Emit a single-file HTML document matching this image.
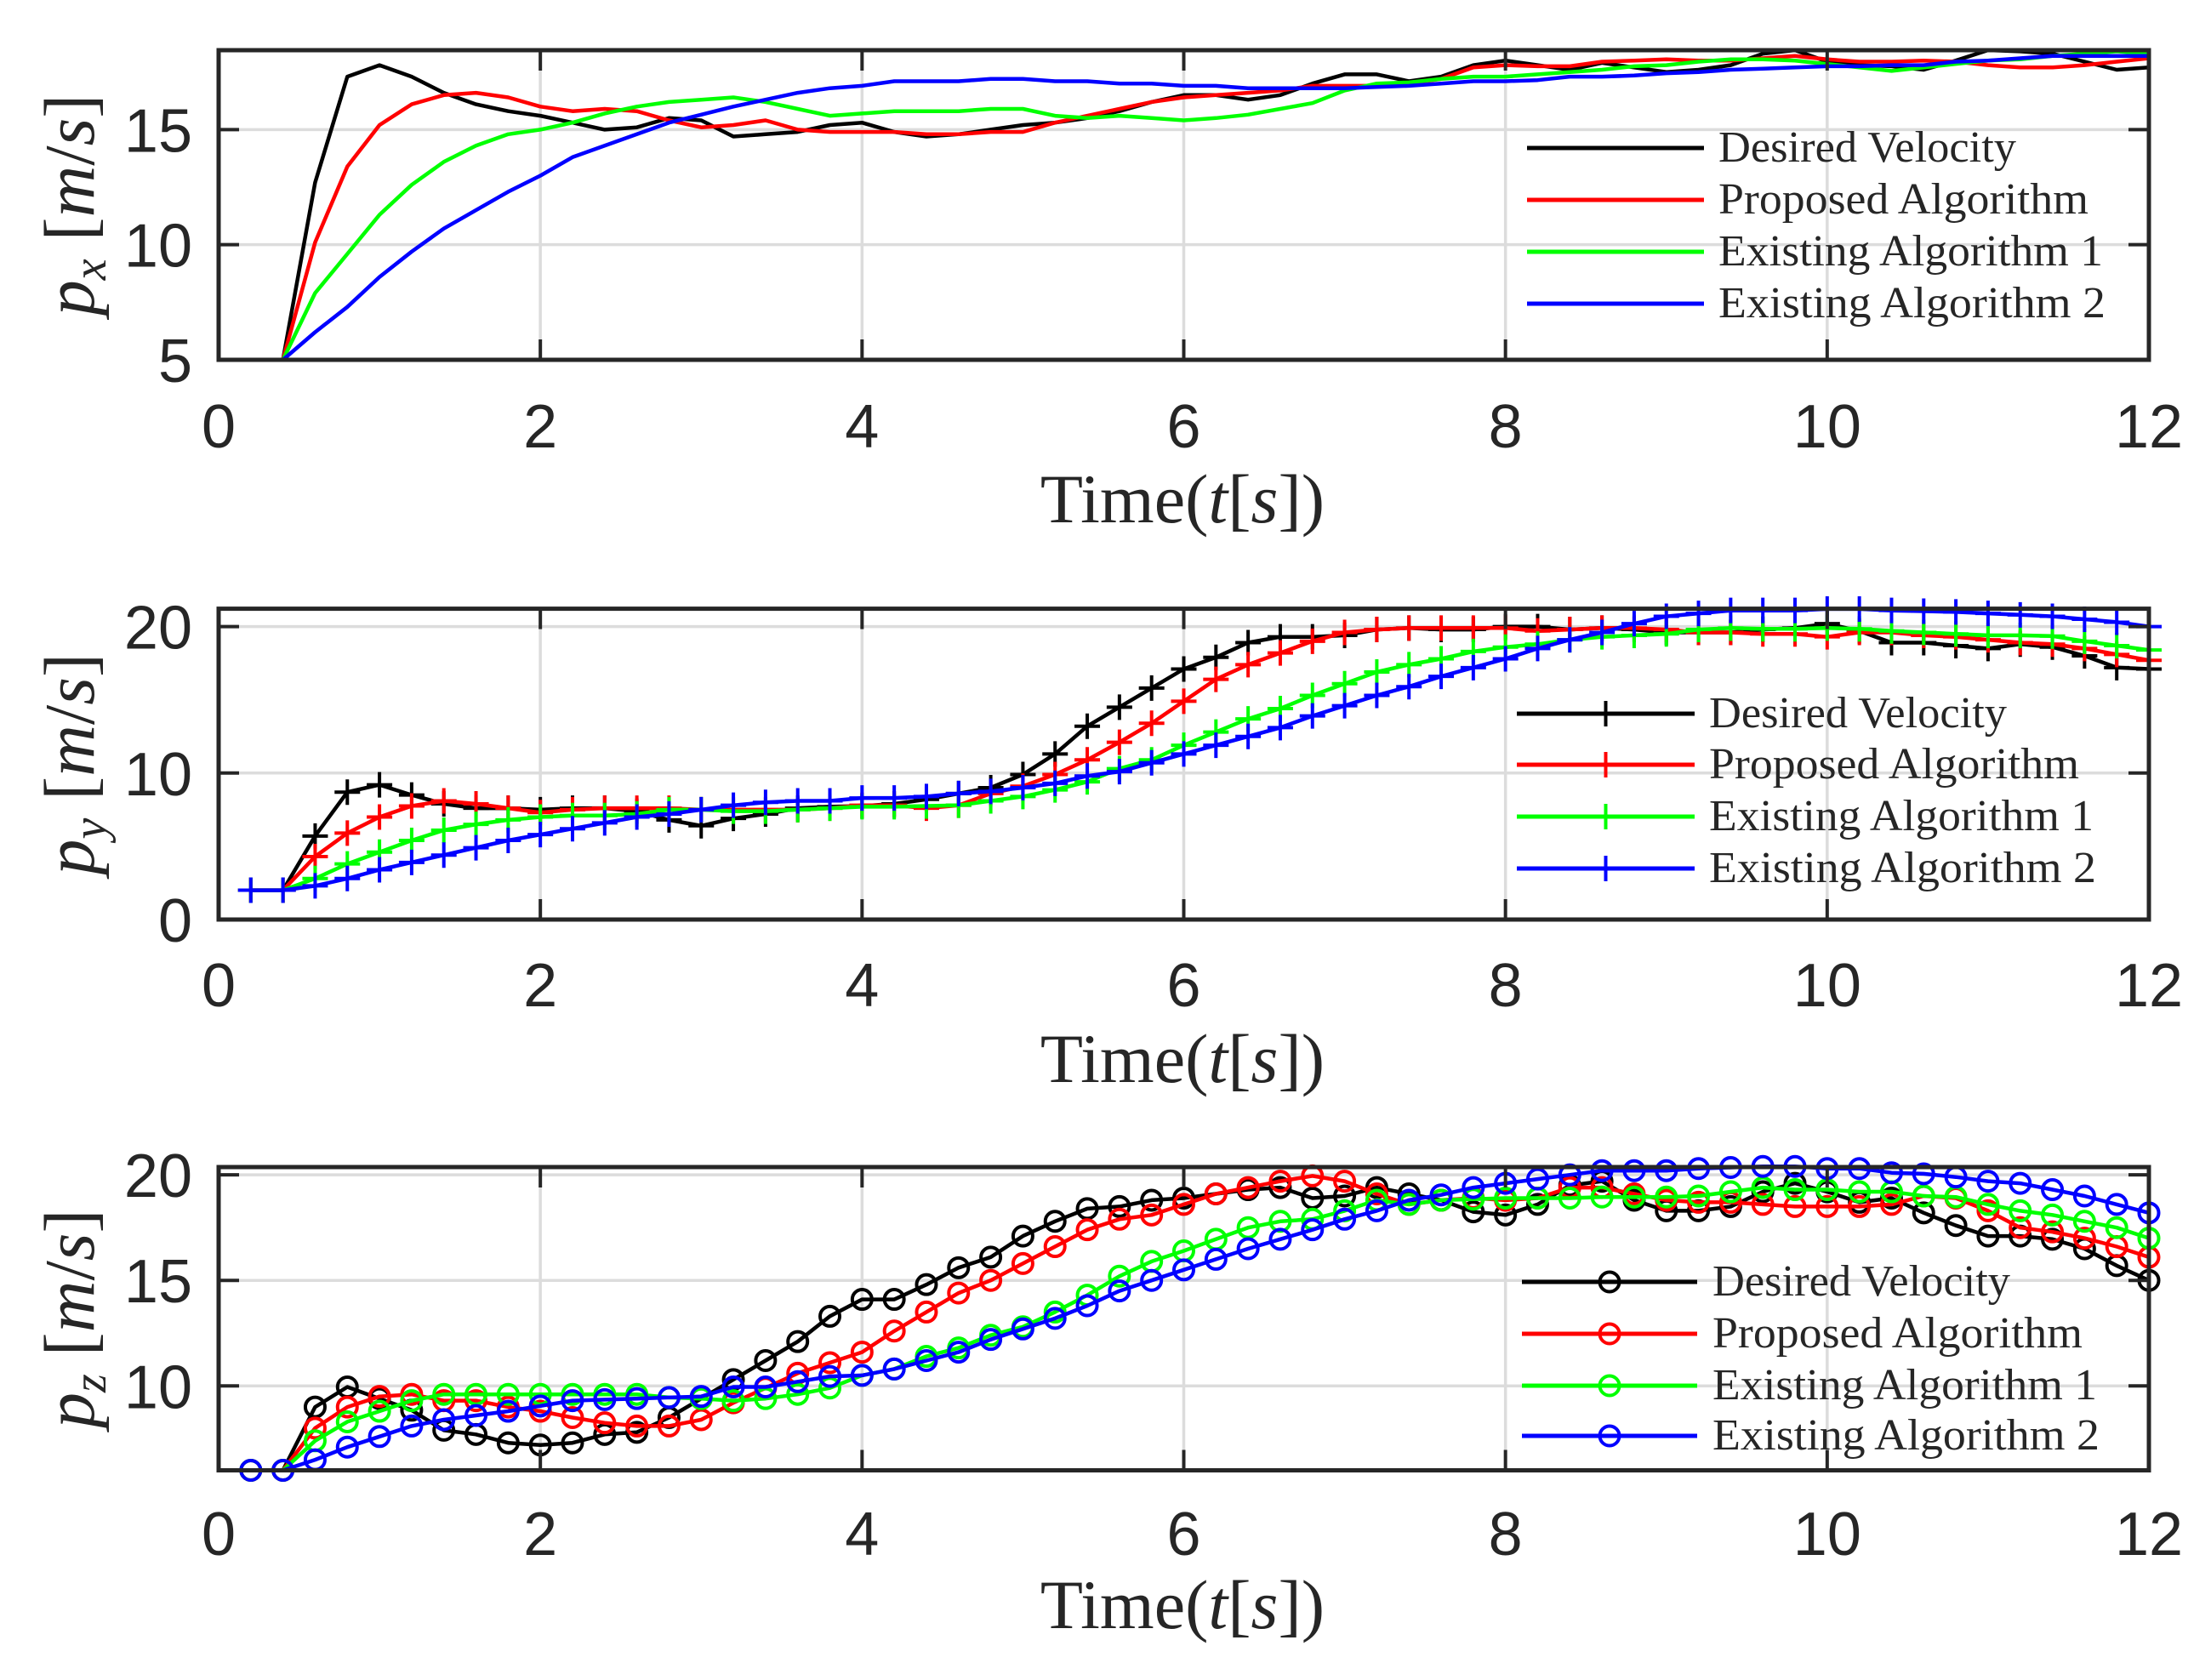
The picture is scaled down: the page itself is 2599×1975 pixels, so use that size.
<!DOCTYPE html>
<html><head><meta charset="utf-8"><style>
html,body{margin:0;padding:0;background:#fff;}
svg{display:block;}
.tick{font-family:"Liberation Sans",Arial,sans-serif;font-size:72px;fill:#262626;}
.lab{font-family:"Liberation Serif",serif;fill:#262626;}
</style></head><body>
<svg id="fig" width="2599" height="1975" viewBox="0 0 2599 1975" xmlns="http://www.w3.org/2000/svg"></svg>
<script>
const times = [];
for (let i = 1; i <= 60; i++) times.push(+(i * 0.2).toFixed(1));
const seriesNames = ["Desired Velocity","Proposed Algorithm","Existing Algorithm 1","Existing Algorithm 2"];
const seriesColors = ["#000000","#ff0000","#00ff00","#0000ff"];
const legendWidths = [350,435,452,455];
const xTicks = [0,2,4,6,8,10,12];

const pxDesired = [5,5,12.7,17.3,17.8,17.3,16.6,16.1,15.8,15.6,15.3,15.0,15.1,15.5,15.4,14.7,14.8,14.9,15.2,15.3,14.9,14.7,14.8,15.0,15.2,15.3,15.5,15.8,16.2,16.5,16.5,16.3,16.5,17.0,17.4,17.4,17.1,17.3,17.8,18.0,17.8,17.6,17.9,17.7,17.5,17.6,17.8,18.3,18.45,17.95,17.8,17.75,17.6,18.0,18.45,18.4,18.3,17.95,17.6,17.7];
const pxProposed = [5,5,10.1,13.4,15.2,16.1,16.5,16.6,16.4,16.0,15.8,15.9,15.8,15.4,15.1,15.2,15.4,15.0,14.9,14.9,14.9,14.8,14.8,14.9,14.9,15.3,15.6,15.9,16.2,16.4,16.5,16.6,16.7,16.9,16.9,16.9,17.0,17.2,17.7,17.8,17.75,17.75,17.95,18.0,18.05,18.0,18.0,18.1,18.2,18.05,17.95,17.95,18.0,17.95,17.8,17.7,17.7,17.8,17.95,18.1];
const pxExisting1 = [5,5,7.9,9.6,11.3,12.6,13.6,14.3,14.8,15.0,15.3,15.7,16.0,16.2,16.3,16.4,16.2,15.9,15.6,15.7,15.8,15.8,15.8,15.9,15.9,15.6,15.5,15.6,15.5,15.4,15.5,15.65,15.9,16.15,16.7,17.0,17.05,17.2,17.3,17.3,17.4,17.5,17.6,17.75,17.8,17.95,18.05,18.05,18.0,17.85,17.7,17.55,17.7,17.85,18.0,18.05,18.2,18.3,18.4,18.3];
const pxExisting2 = [5,5,6.2,7.3,8.6,9.7,10.7,11.5,12.3,13.0,13.8,14.3,14.8,15.3,15.65,16.0,16.3,16.6,16.8,16.9,17.1,17.1,17.1,17.2,17.2,17.1,17.1,17.0,17.0,16.9,16.9,16.8,16.8,16.8,16.8,16.85,16.9,17.0,17.1,17.1,17.15,17.3,17.3,17.35,17.45,17.5,17.6,17.65,17.7,17.75,17.75,17.8,17.8,17.95,18.0,18.1,18.2,18.2,18.2,18.2];

const pyDesired = [2,2,5.7,8.7,9.2,8.5,7.9,7.6,7.6,7.5,7.6,7.6,7.4,6.8,6.4,6.9,7.2,7.6,7.7,7.75,7.9,8.2,8.6,9.0,9.9,11.3,13.2,14.5,15.8,17.1,17.9,18.9,19.3,19.3,19.4,19.8,19.9,19.8,19.8,20.0,20.0,19.8,19.9,19.8,19.6,19.6,19.6,19.8,19.9,20.2,19.7,18.9,18.9,18.7,18.5,18.8,18.6,18.0,17.2,17.1];
const pyProposed = [2,2,4.3,5.9,7.0,7.75,8.1,7.9,7.6,7.3,7.5,7.6,7.6,7.6,7.5,7.5,7.5,7.5,7.6,7.8,7.8,7.6,7.8,8.6,9.1,9.9,10.9,12.1,13.4,14.9,16.4,17.4,18.2,19.0,19.6,19.8,19.9,19.9,19.9,19.9,19.7,19.8,19.9,19.9,19.8,19.6,19.6,19.5,19.5,19.3,19.6,19.6,19.4,19.3,19.1,18.9,18.8,18.5,18.1,17.7];
const pyExisting1 = [2,2,2.8,3.8,4.6,5.4,6.1,6.5,6.8,7.0,7.1,7.1,7.2,7.5,7.5,7.4,7.4,7.5,7.6,7.7,7.7,7.75,7.8,8.1,8.4,8.85,9.4,10.3,10.9,11.9,12.8,13.7,14.4,15.3,16.1,16.9,17.4,17.8,18.3,18.6,18.8,19.1,19.3,19.4,19.5,19.8,19.9,19.85,19.85,19.9,19.85,19.7,19.6,19.5,19.4,19.4,19.35,19.0,18.7,18.4];
const pyExisting2 = [2,2,2.3,2.8,3.4,3.9,4.4,4.9,5.4,5.8,6.2,6.6,7.0,7.2,7.5,7.8,8.0,8.1,8.1,8.3,8.3,8.4,8.6,8.75,9.0,9.3,9.8,10.1,10.7,11.3,11.9,12.5,13.1,13.9,14.6,15.3,15.9,16.6,17.2,17.8,18.5,19.1,19.6,20.2,20.7,20.9,21.1,21.1,21.1,21.2,21.2,21.1,21.05,21.0,20.9,20.8,20.7,20.5,20.3,20.0];

const pzDesired = [6,6,9.0,9.95,9.4,8.85,7.9,7.7,7.3,7.2,7.3,7.7,7.8,8.5,9.4,10.3,11.2,12.1,13.3,14.1,14.1,14.8,15.6,16.1,17.1,17.8,18.4,18.5,18.8,18.9,19.1,19.3,19.4,18.9,19.0,19.4,19.1,18.8,18.25,18.1,18.6,19.5,19.7,18.8,18.3,18.3,18.5,19.2,19.6,19.2,18.7,18.9,18.2,17.6,17.1,17.1,16.95,16.5,15.7,15.0];
const pzProposed = [6,6,8.0,9.0,9.5,9.6,9.3,9.3,9.0,8.8,8.5,8.25,8.1,8.1,8.4,9.2,9.9,10.6,11.1,11.6,12.6,13.5,14.4,15.0,15.8,16.6,17.4,17.9,18.1,18.6,19.1,19.4,19.7,19.95,19.7,19.1,18.6,18.8,18.9,18.8,18.9,19.4,19.4,19.1,18.8,18.7,18.7,18.6,18.5,18.5,18.5,18.6,19.0,18.9,18.3,17.5,17.3,17.0,16.6,16.1];
const pzExisting1 = [6,6,7.4,8.3,8.8,9.3,9.6,9.6,9.6,9.6,9.6,9.6,9.6,9.45,9.4,9.3,9.4,9.6,9.9,10.5,10.8,11.4,11.8,12.4,12.8,13.5,14.3,15.2,15.9,16.4,16.95,17.5,17.8,17.9,18.3,18.8,18.6,18.8,18.85,18.9,18.9,18.9,18.95,18.95,18.95,19.0,19.2,19.4,19.3,19.3,19.2,19.2,19.0,18.95,18.6,18.3,18.1,17.8,17.5,17.0];
const pzExisting2 = [6,6,6.5,7.1,7.6,8.1,8.4,8.6,8.8,9.05,9.3,9.35,9.4,9.45,9.5,9.95,9.95,10.2,10.45,10.5,10.8,11.2,11.6,12.2,12.7,13.2,13.8,14.5,15.0,15.5,16.0,16.5,16.95,17.4,17.9,18.3,18.8,19.05,19.4,19.6,19.8,20.0,20.2,20.2,20.2,20.3,20.35,20.4,20.4,20.3,20.3,20.1,20.05,19.9,19.7,19.6,19.3,19.0,18.6,18.2];

const pyTicks = [0,10,20], pxTicks = [5,10,15], pzTicks = [10,15,20];

const NS = "http://www.w3.org/2000/svg";
const svg = document.getElementById("fig");
function mk(tag, attrs, parent) {
  const e = document.createElementNS(NS, tag);
  for (const k in attrs) e.setAttribute(k, attrs[k]);
  (parent || svg).appendChild(e);
  return e;
}
const X0 = 257, X1 = 2526;
function xs(t) { return X0 + (X1 - X0) * t / 12; }

const panels = [
  {key:"px", sub:"x", top:59, bot:423, ymin:5, ymax:18.45, ticks:pxTicks, data:[pxDesired,pxProposed,pxExisting1,pxExisting2], marker:"none",
   tickBase:526, labBase:614, legX1:1795, legX2:2003, legTx:2020, legY:[174,235,296,357]},
  {key:"py", sub:"y", top:715.6, bot:1081, ymin:0, ymax:21.22, ticks:pyTicks, data:[pyDesired,pyProposed,pyExisting1,pyExisting2], marker:"plus",
   tickBase:1183, labBase:1272, legX1:1783, legX2:1992, legTx:2009, legY:[839,899,960,1021]},
  {key:"pz", sub:"z", top:1372, bot:1728.5, ymin:6.0, ymax:20.37, ticks:pzTicks, data:[pzDesired,pzProposed,pzExisting1,pzExisting2], marker:"circle",
   tickBase:1828, labBase:1914, legX1:1789, legX2:1995, legTx:2013, legY:[1507,1568,1629,1688]}
];

function drawMarker(g, type, x, y, color) {
  if (type === "plus") {
    const p = mk("path", {d:`M${x-15},${y}H${x+15}M${x},${y-15}V${y+15}`, stroke:color, "stroke-width":4, fill:"none"}, g);
    
    
  } else if (type === "circle") {
    const c = mk("circle", {cx:x, cy:y, r:11.5, stroke:color, "stroke-width":4, fill:"none"}, g);
    
    
  }
}

panels.forEach(P => {
  const ys = v => P.bot - (v - P.ymin) / (P.ymax - P.ymin) * (P.bot - P.top);
  const g = mk("g", {});
  
  
  xTicks.forEach(t => {
    const l = mk("line", {x1:xs(t), x2:xs(t), y1:P.top, y2:P.bot, stroke:"#dcdcdc", "stroke-width":3.5}, g);
    
    
  });
  P.ticks.forEach(v => {
    const l = mk("line", {x1:X0, x2:X1, y1:ys(v), y2:ys(v), stroke:"#dcdcdc", "stroke-width":3.5}, g);
    
    
  });
  const clipId = "clip-" + P.key;
  const cp = mk("clipPath", {id:clipId}, g);
  mk("rect", {x:X0, y:P.top - 16, width:X1 - X0 + 16, height:P.bot - P.top + 32}, cp);
  P.data.forEach((arr, si) => {
    const sg = mk("g", {"clip-path":`url(#${clipId})`}, g);
    
    
    const pts = arr.map((v, i) => xs(times[i]).toFixed(1) + "," + ys(v).toFixed(1)).join(" ");
    const pl = mk("polyline", {points:pts, fill:"none", stroke:seriesColors[si], "stroke-width":4.5, "stroke-linejoin":"round"}, sg);
    
    
    if (P.marker !== "none") arr.forEach((v, i) => drawMarker(sg, P.marker, xs(times[i]), ys(v), seriesColors[si]));
  });
  const box = mk("rect", {x:X0, y:P.top, width:X1 - X0, height:P.bot - P.top, fill:"none", stroke:"#262626", "stroke-width":5}, g);
  
  
  xTicks.forEach(t => {
    mk("line", {x1:xs(t), x2:xs(t), y1:P.bot, y2:P.bot - 24, stroke:"#262626", "stroke-width":4}, g);
    mk("line", {x1:xs(t), x2:xs(t), y1:P.top, y2:P.top + 24, stroke:"#262626", "stroke-width":4}, g);
    const tx = mk("text", {x:xs(t), y:P.tickBase, "text-anchor":"middle", class:"tick"}, g);
    tx.textContent = t;
    
    
  });
  P.ticks.forEach(v => {
    mk("line", {x1:X0, x2:X0 + 24, y1:ys(v), y2:ys(v), stroke:"#262626", "stroke-width":4}, g);
    mk("line", {x1:X1, x2:X1 - 24, y1:ys(v), y2:ys(v), stroke:"#262626", "stroke-width":4}, g);
    const tx = mk("text", {x:226, y:ys(v) + 26, "text-anchor":"end", class:"tick"}, g);
    tx.textContent = v;
    
    
  });
  const xl = mk("text", {x:1390, y:P.labBase, "text-anchor":"middle", class:"lab", "font-size":82}, g);
  
  
  xl.innerHTML = 'Time(<tspan font-style="italic">t</tspan>[<tspan font-style="italic">s</tspan>])';
  const cy = (P.top + P.bot) / 2;
  const yl = mk("text", {x:0, y:0, "text-anchor":"middle", class:"lab", "font-size":84, transform:`translate(110,${cy}) rotate(-90)`}, g);
  
  
  yl.innerHTML = `<tspan font-style="italic">p</tspan><tspan font-style="italic" font-size="56" dy="14">${P.sub}</tspan><tspan dy="-14"> [</tspan><tspan font-style="italic">m</tspan>/<tspan font-style="italic">s</tspan>]`;
  const lg = mk("g", {}, g);
  
  
  seriesNames.forEach((name, si) => {
    const y = P.legY[si];
    const e = mk("g", {}, lg);
    
    
    mk("line", {x1:P.legX1, x2:P.legX2, y1:y, y2:y, stroke:seriesColors[si], "stroke-width":5}, e);
    if (P.marker !== "none") drawMarker(e, P.marker, (P.legX1 + P.legX2) / 2, y, seriesColors[si]);
    const t = mk("text", {x:P.legTx, y:y + 16, class:"lab", "font-size":52, fill:"#000", textLength:legendWidths[si], lengthAdjust:"spacingAndGlyphs"}, e);
    t.textContent = name;
  });
});
</script>
</body></html>
